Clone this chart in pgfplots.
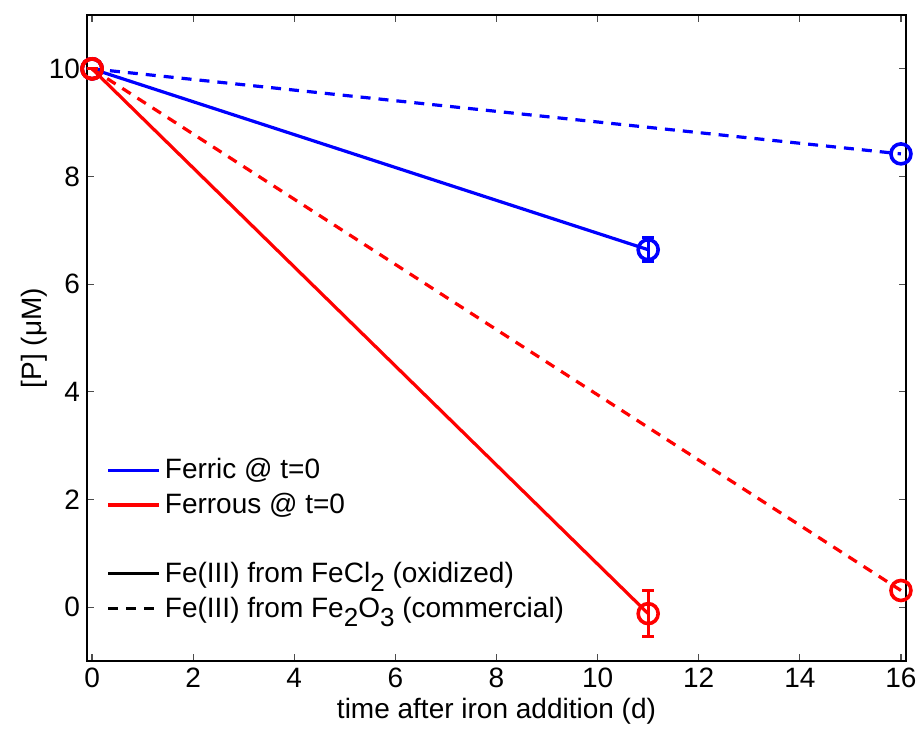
\documentclass[border=0pt]{standalone}
\usepackage{fontspec}
\setmainfont{Liberation Sans}
\usepackage{pgfplots}
\pgfplotsset{compat=1.18}
\newcommand{\sub}[1]{\raisebox{-0.6ex}{\fontsize{13}{13}\selectfont #1}}

\begin{document}
\begin{tikzpicture}
\begin{axis}[
  scale only axis,
  width=409.5pt, height=323pt,
  xmin=-0.1, xmax=16.1, ymin=-1, ymax=11,
  xtick={0,2,...,16}, ytick={0,2,...,10},
  tick align=inside, major tick length=3.5pt,
  tick style={black!70, line width=0.6pt},
  axis line style={line width=0.8pt},
  /pgf/number format/assume math mode=true,
  tick label style={font=\fontsize{14}{16}\selectfont},
  label style={font=\fontsize{14}{16}\selectfont},
  xlabel={time after iron addition (d)},
  ylabel={[P] (μM)},
  xlabel style={at={(axis description cs:0.5,-0.078)}, anchor=center},
  ylabel style={at={(axis description cs:-0.064,0.5)}, anchor=center},
  legend style={draw=none, fill=none, at={(0.016,0.05)}, anchor=south west,
    font=\fontsize{14}{16}\selectfont, row sep=1.8pt,
    /tikz/every even column/.append style={column sep=2pt}},
  legend cell align=left,
  legend image code/.code={\draw[#1] (0cm,0cm) -- (0.9cm,0cm);},
  every axis plot/.append style={line width=1.6pt},
]
% blue: ferric at t=0
\addplot[blue, mark=o, mark size=5pt, mark options={solid, fill=white, line width=1.8pt},
  forget plot, error bars/.cd, y dir=both, y explicit,
  error bar style={line width=1.6pt}, error mark options={rotate=90, mark size=3pt, line width=1.6pt}]
  coordinates {(0,10) +- (0,0) (11,6.64) +- (0,0.22)};
\addplot[blue, dash pattern=on 5pt off 4pt, mark=o, mark size=5pt, mark options={solid, fill=white, line width=1.8pt}, forget plot]
  coordinates {(0,10) (16,8.42)};
% red: ferrous at t=0
\addplot[red, mark=o, mark size=5pt, mark options={solid, fill=white, line width=1.8pt},
  forget plot, error bars/.cd, y dir=both, y explicit,
  error bar style={line width=1.6pt}, error mark options={rotate=90, mark size=3pt, line width=1.6pt}]
  coordinates {(0,10) +- (0,0) (11,-0.12) +- (0,0.43)};
\addplot[red, dash pattern=on 5pt off 4pt, mark=o, mark size=5pt, mark options={solid, fill=white, line width=1.8pt}, forget plot]
  coordinates {(0,10) (16,0.31)};
\addplot[red, mark=o, mark size=5pt, mark options={solid, fill=white, line width=1.8pt}, only marks, forget plot]
  coordinates {(0,10)};

\addlegendimage{blue, line width=1.6pt}
\addlegendentry{Ferric @ t=0}
\addlegendimage{red, line width=1.6pt}
\addlegendentry{Ferrous @ t=0}
\addlegendimage{white, line width=0pt}
\addlegendentry{\vphantom{Ag}}
\addlegendimage{black, line width=1.6pt}
\addlegendentry{Fe(III) from FeCl\sub{2} (oxidized)}
\addlegendimage{black, line width=1.6pt, dash pattern=on 5pt off 4pt}
\addlegendentry{Fe(III) from Fe\sub{2}O\sub{3} (commercial)}
\end{axis}
\pgfresetboundingbox
\path (current axis.south west) ++(-43.5pt,-33.5pt) rectangle ++(459.5pt,364pt);
\end{tikzpicture}
\end{document}
